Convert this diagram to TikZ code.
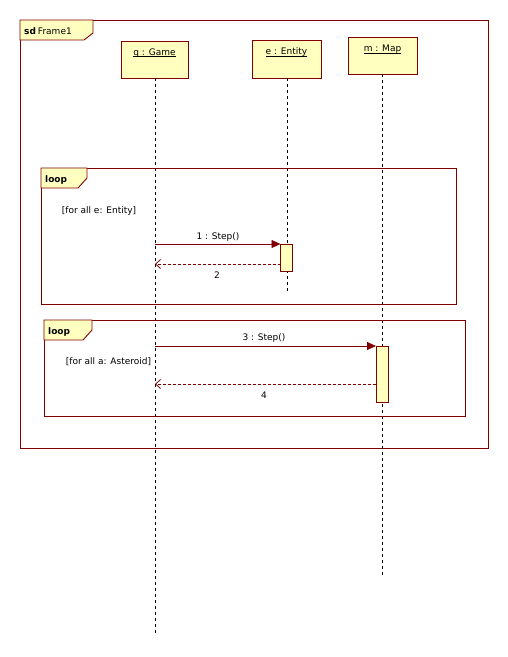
\documentclass[tikz,border=0pt]{standalone}
\usepackage{fontspec}
\setmainfont{DejaVu Sans}
\usetikzlibrary{arrows.meta}
\definecolor{umlred}{RGB}{128,0,0}
\definecolor{umlfill}{RGB}{255,255,192}
\newcommand{\ulname}[1]{\underline{\smash{#1}}}
\begin{document}
\begin{tikzpicture}[x=1pt,y=-1pt,
  font=\fontsize{9}{11}\selectfont,
  lifebox/.style={draw=umlred,fill=umlfill,line width=0.9pt},
  framebox/.style={draw=umlred,line width=0.9pt},
  tabbox/.style={draw=umlred,fill=umlfill,line width=0.9pt},
  lifeline/.style={draw=black,dash pattern=on 3pt off 3pt,line width=0.8pt},
  actbox/.style={draw=umlred,fill=umlfill,line width=0.9pt},
  callmsg/.style={draw=umlred,line width=0.8pt,-{Triangle[length=9pt,width=8pt]}},
  retmsg/.style={draw=umlred,line width=0.8pt,dash pattern=on 3pt off 2pt,-{Straight Barb[length=5pt,width=9pt]}},
  lbl/.style={inner sep=0pt,anchor=base},
  lblw/.style={inner sep=0pt,anchor=base west}]
\useasboundingbox[fill=white] (0,0) rectangle (508,657);

% outer frame sd Frame1
\draw[framebox] (20,20) rectangle (488,448);
\draw[tabbox] (20,20) -- (93,20) -- (93,33) -- (84,40) -- (20,40) -- cycle;
\node[lblw] (sdlbl) at (24,34.5) {\textbf{sd}\hspace{2pt}Frame1};

% lifeline heads
\draw[lifebox] (121,41) rectangle (188,78);
\node[lbl] (game) at (154.5,55) {\ulname{q : Game}};
\draw[lifebox] (252,40) rectangle (321,78);
\node[lbl] (entity) at (286.5,54.5) {\ulname{e : Entity}};
\draw[lifebox] (348,37) rectangle (417,74);
\node[lbl] (map) at (382.5,51.5) {\ulname{m : Map}};

\coordinate (gtop) at (155,78);
\coordinate (gend) at (155,635);
\coordinate (etop) at (287,78);
\coordinate (eend) at (287,293);
\coordinate (mtop) at (382,74);
\coordinate (mend) at (382,575);
\draw[lifeline] (gtop) -- (gend);
\draw[lifeline] (etop) -- (eend);
\draw[lifeline] (mtop) -- (mend);

% first loop fragment
\draw[framebox] (41,168) rectangle (456,304);
\draw[tabbox] (41,168) -- (87,168) -- (87,178) -- (78,188) -- (41,188) -- cycle;
\node[lblw] (loopA) at (45,182.5) {\textbf{loop}};
\node[lbl] (guardA) at (99,213) {[for all e: Entity]};

\draw[actbox] (280.5,244) rectangle (292.5,271);
\coordinate (s1) at (155,244);
\coordinate (t1) at (280.5,244);
\draw[callmsg] (s1) -- (t1);
\node[lbl] (m1) at (218,239) {1 : Step()};
\coordinate (s2) at (280.5,264);
\coordinate (t2) at (155,264);
\draw[retmsg] (s2) -- (t2);
\node[lbl] (m2) at (217,278.5) {2};

% second loop fragment
\draw[framebox] (44,320) rectangle (465,416);
\draw[tabbox] (44,320) -- (92,320) -- (92,330) -- (83,340) -- (44,340) -- cycle;
\node[lblw] (loopB) at (48,334.5) {\textbf{loop}};
\node[lbl] (guardB) at (108.5,364) {[for all a: Asteroid]};

\draw[actbox] (376,346) rectangle (388,402);
\coordinate (s3) at (155,346);
\coordinate (t3) at (376,346);
\draw[callmsg] (s3) -- (t3);
\node[lbl] (m3) at (264,340) {3 : Step()};
\coordinate (s4) at (376,384);
\coordinate (t4) at (155,384);
\draw[retmsg] (s4) -- (t4);
\node[lbl] (m4) at (264,398) {4};
\end{tikzpicture}
\end{document}
